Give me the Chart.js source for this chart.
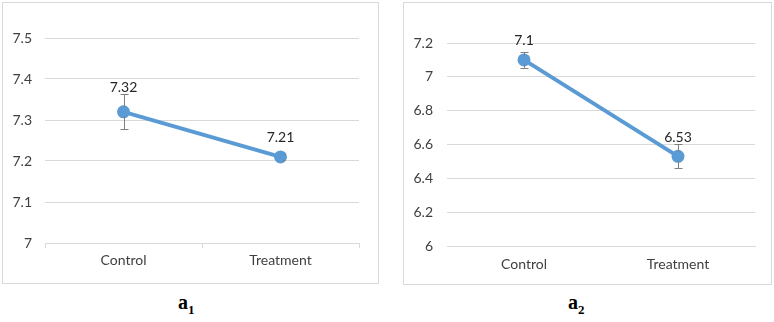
<!DOCTYPE html>
<html><head><meta charset="utf-8">
<script src="https://cdn.jsdelivr.net/npm/chart.js@4/dist/chart.umd.min.js"></script>
<style>
body{margin:0;background:#fff;width:774px;height:322px;position:relative;overflow:hidden;font-family:Lato,sans-serif}
.panel{position:absolute;border:1px solid #d9d9d9;box-sizing:border-box;background:#fff}
canvas{position:absolute}
.sub{position:absolute;font-family:"Liberation Serif","DejaVu Serif",serif;font-weight:bold;font-size:20px;color:#000}
.sub sub{font-size:13px}
</style></head><body>
<div class="panel" style="left:2px;top:2px;width:377px;height:282px"></div>
<div class="panel" style="left:403px;top:2px;width:369px;height:283px"></div>
<canvas id="c1" style="left:3px;top:3px" width="375" height="280"></canvas>
<canvas id="c2" style="left:404px;top:3px" width="367" height="281"></canvas>
<div class="sub" style="left:178px;top:291px">a<sub>1</sub></div>
<div class="sub" style="left:568px;top:291px">a<sub>2</sub></div>
<script>
const categories = ["Control", "Treatment"];
const meansA1 = [7.32, 7.21];
const errA1 = [0.043, 0.008];
const ticksA1 = [7, 7.1, 7.2, 7.3, 7.4, 7.5];
const meansA2 = [7.1, 6.53];
const errA2 = [0.047, 0.07];
const ticksA2 = [6, 6.2, 6.4, 6.6, 6.8, 7, 7.2];

const blue = "#5B9BD5";
const errPlugin = {
  id: "errbars",
  afterDatasetsDraw(chart, args, opts) {
    const ctx = chart.ctx, x = chart.scales.x, y = chart.scales.y;
    const ds = chart.data.datasets[0];
    ctx.save();
    ctx.strokeStyle = "#7f7f7f"; ctx.lineWidth = 1;
    ds.data.forEach((v, i) => {
      const e = opts.err[i];
      const px = Math.round(x.getPixelForValue(i)) + 0.5;
      const t = y.getPixelForValue(v + e), b = y.getPixelForValue(v - e);
      ctx.beginPath();
      ctx.moveTo(px, t); ctx.lineTo(px, b);
      ctx.moveTo(px - 4, Math.round(t) + 0.5); ctx.lineTo(px + 4, Math.round(t) + 0.5);
      ctx.moveTo(px - 4, Math.round(b) + 0.5); ctx.lineTo(px + 4, Math.round(b) + 0.5);
      ctx.stroke();
    });
    const meta = chart.getDatasetMeta(0);
    meta.data.forEach(pt => {
      ctx.beginPath(); ctx.fillStyle = blue;
      ctx.arc(pt.x, pt.y, 4.5, 0, Math.PI * 2); ctx.fill();
    });
    ctx.fillStyle = "#262626";
    ctx.font = "14px Lato";
    ctx.textAlign = "center"; ctx.textBaseline = "alphabetic";
    meta.data.forEach((pt, i) => {
      ctx.fillText(String(ds.data[i]), pt.x, pt.y - opts.labelOffset[i]);
    });
    ctx.restore();
  }
};

function makeChart(id, means, err, ticks, cfg) {
  new Chart(document.getElementById(id), {
    type: "line",
    data: { labels: categories, datasets: [{ data: means, borderColor: blue, backgroundColor: blue, borderWidth: 4, pointRadius: 4.5, pointHoverRadius: 4.5, clip: false, tension: 0 }] },
    options: {
      responsive: false, animation: false, events: [],
      layout: { padding: { top: cfg.top, right: cfg.right, left: 0, bottom: 0 } },
      plugins: { legend: { display: false }, tooltip: { enabled: false }, errbars: { err: err, labelOffset: cfg.labelOffset } },
      scales: {
        x: {
          offset: true,
          grid: { offset: true, drawOnChartArea: false, drawTicks: cfg.xTicks, tickLength: 5, color: "#d9d9d9" },
          border: { display: true, color: "#d9d9d9" },
          ticks: { color: "#404040", font: { family: "Lato", size: 14 }, padding: cfg.xPad },
          afterFit(s) { s.height = cfg.xH; }
        },
        y: {
          min: ticks[0], max: ticks[ticks.length - 1],
          afterBuildTicks(s) { s.ticks = ticks.map(v => ({ value: v })); },
          grid: { color: "#d9d9d9", drawTicks: false },
          border: { display: false },
          ticks: { color: "#404040", font: { family: "Lato", size: 14 }, padding: cfg.yPad, callback: v => String(+v.toFixed(2)) },
          afterFit(s) { s.width = cfg.yW; }
        }
      }
    },
    plugins: [errPlugin]
  });
}

makeChart("c1", meansA1, errA1, ticksA1, { top: 35, right: 19, xH: 40, yW: 42, yPad: 13, xPad: 4, xTicks: true, labelOffset: [20, 15] });
makeChart("c2", meansA2, errA2, ticksA2, { top: 40, right: 16, xH: 38, yW: 43, yPad: 14, xPad: 10, xTicks: false, labelOffset: [15, 14] });
</script>
</body></html>
